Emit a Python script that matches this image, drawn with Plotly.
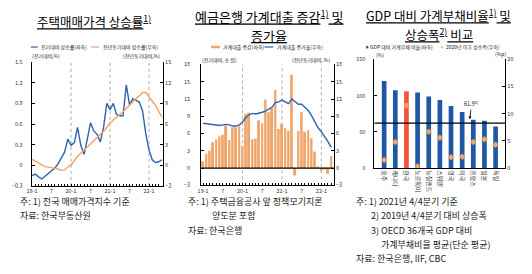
import plotly.graph_objects as go

FONT = "Noto Sans CJK KR"
W, H = 532, 274

# ---------------- data ----------------
# Panel 1: housing price growth, 2019-1 .. 2022-5 (monthly)
p1_mom = [-0.15, -0.13, -0.17, -0.20, -0.16, -0.12, -0.08, -0.04, 0.02, 0.10,
          0.19, 0.38, 0.29, 0.33, 0.55, 0.29, 0.16, 0.38, 0.62, 0.50,
          0.45, 0.34, 0.55, 0.90, 0.81, 0.90, 0.74, 0.72, 0.72, 1.17,
          0.88, 0.97, 0.95, 0.92, 0.79, 0.46, 0.22, 0.08, 0.04, 0.05, 0.08]
p1_yoy = [0.85, 0.60, 0.35, 0.05, -0.20, -0.27, -0.33, -0.40, -0.55, -0.73,
          -0.68, -0.30, 0.05, 0.65, 1.30, 1.75, 2.20, 2.70, 3.15, 3.60,
          4.05, 4.50, 4.95, 5.50, 6.15, 6.60, 6.95, 7.40, 7.80, 8.30,
          8.70, 9.20, 9.70, 10.10, 10.60, 10.60, 10.00, 9.40, 8.70, 7.80, 7.00]
p1_x = list(range(len(p1_mom)))

# Panel 2: household loans, 2019-1 .. 2022-4 (monthly)
p2_change = [1.2, 2.5, 3.0, 4.5, 5.0, 5.5, 5.8, 7.4, 4.9, 7.1,
             7.1, 7.3, 3.9, 9.4, 9.6, 5.0, 5.1, 8.3, 7.8, 11.9,
             9.7, 10.5, 13.6, 6.8, 7.7, 6.9, 6.5, 16.2, -1.3, 6.5,
             9.7, 6.3, 6.6, 5.2, 2.9, 0.2, -0.5, -0.2, -1.0, 2.1]
p2_growth = [7.8, 7.7, 7.6, 7.5, 7.4, 7.4, 7.5, 7.6, 7.5, 7.3,
             7.3, 7.5, 8.0, 8.8, 9.3, 9.5, 9.4, 9.5, 9.7, 9.9,
             10.2, 10.6, 11.4, 11.5, 11.8, 11.5, 11.2, 12.0, 11.5, 11.1,
             11.1, 10.6, 10.0, 9.1, 8.0, 7.0, 6.3, 5.5, 4.6, 3.6]
p2_x = list(range(len(p2_change)))

month_tickvals = [0, 6, 12, 18, 24, 30, 36]
month_ticktext = ["19-1", "7", "20-1", "7", "21-1", "7", "22-1"]
year_starts = [12, 24, 36]

# Panel 3: household debt to GDP
countries = ["호주", "캐나다", "한국", "노르웨이", "뉴질랜드", "스웨덴",
             "영국", "미국", "프랑스", "일본", "독일"]
debt_ratio = [120, 107.5, 106, 104.4, 98.7, 93.8, 85.8, 77.3, 66.7, 65.3, 57.3]
debt_rise = [1.5, 4.8, 11.5, 0.3, 6.7, 5.6, 2.0, 2.1, 4.8, 5.3, 4.3]
oecd_avg = 61.9

# ---------------- colors ----------------
BLUE = "#2E62AE"
ORANGE = "#EFA468"
BAR_BLUE = "#1D57A6"
KOREA_RED = "#F4513A"
TXT = "#222222"
TICK = "#333333"


def px(x):
    return x / W


def py(y):
    return 1 - y / H


fig = go.Figure()

# Panel 1
fig.add_trace(go.Scatter(x=p1_x, y=p1_mom, mode="lines", line=dict(color=BLUE, width=1.4),
                         xaxis="x", yaxis="y", showlegend=False))
fig.add_trace(go.Scatter(x=p1_x, y=p1_yoy, mode="lines", line=dict(color=ORANGE, width=1.4),
                         xaxis="x", yaxis="y2", showlegend=False))

# Panel 2
fig.add_trace(go.Bar(x=p2_x, y=p2_change, marker=dict(color=ORANGE, line=dict(width=0)),
                     width=0.6, xaxis="x2", yaxis="y3", showlegend=False))
fig.add_trace(go.Scatter(x=p2_x, y=p2_growth, mode="lines", line=dict(color=BLUE, width=1.4),
                         xaxis="x2", yaxis="y4", showlegend=False))

# Panel 3
fig.add_trace(go.Bar(x=countries, y=debt_ratio,
                     marker=dict(color=[KOREA_RED if c == "한국" else BAR_BLUE for c in countries],
                                 line=dict(width=0)),
                     width=0.42, xaxis="x3", yaxis="y5", showlegend=False))
fig.add_trace(go.Scatter(x=countries, y=debt_rise, mode="markers",
                         marker=dict(symbol="diamond", size=5, color=ORANGE),
                         xaxis="x3", yaxis="y6", showlegend=False))

axis_common = dict(showgrid=False, zeroline=False, showline=True, linecolor="black",
                   linewidth=1, tickfont=dict(family=FONT, size=5.5, color=TICK))

p1_dom_x = [px(27), px(159.5)]
p1_dom_y = [py(187.3), py(60)]
p2_dom_x = [px(198), px(332)]
p2_dom_y = [py(186.8), py(62.3)]
p3_dom_x = [px(373), px(505)]
p3_dom_y = [py(169), py(57)]

fig.update_layout(
    width=W, height=H, margin=dict(l=0, r=0, t=0, b=0),
    paper_bgcolor="white", plot_bgcolor="rgba(0,0,0,0)",
    font=dict(family=FONT, color=TXT),
    showlegend=False,
    xaxis=dict(domain=p1_dom_x, anchor="y", range=[-0.1, 40.3],
               tickvals=month_tickvals, ticktext=month_ticktext,
               ticks="inside", ticklen=2, tickcolor="black",
               minor=dict(dtick=1, ticks="inside", ticklen=2, tickcolor="black"),
               **axis_common),
    yaxis=dict(domain=p1_dom_y, anchor="x", range=[-0.3, 1.5], dtick=0.3, tick0=0,
               ticks="inside", ticklen=3, tickcolor="black", ticklabelstandoff=7,
               **axis_common),
    yaxis2=dict(overlaying="y", anchor="x", side="right", range=[-3, 15], dtick=3,
                ticks="inside", ticklen=3, tickcolor="black", **axis_common),
    xaxis2=dict(domain=p2_dom_x, anchor="y3", range=[-0.6, 39.8],
                tickvals=month_tickvals, ticktext=month_ticktext,
                ticks="inside", ticklen=2, tickcolor="black",
                minor=dict(dtick=1, ticks="inside", ticklen=2, tickcolor="black"),
                **axis_common),
    yaxis3=dict(domain=p2_dom_y, anchor="x2", range=[-3, 18], dtick=3,
                ticks="inside", ticklen=3, tickcolor="black", ticklabelstandoff=9,
                **axis_common),
    yaxis4=dict(overlaying="y3", anchor="x2", side="right", range=[-3, 18], dtick=3,
                ticks="inside", ticklen=3, tickcolor="black", **axis_common),
    xaxis3=dict(domain=p3_dom_x, anchor="y5", type="category", tickangle=90,
                ticks="", showgrid=False, zeroline=False, showline=True, linecolor="black",
                linewidth=1, tickfont=dict(family=FONT, size=6, color=TICK)),
    yaxis5=dict(domain=p3_dom_y, anchor="x3", range=[0, 150], dtick=50,
                ticks="inside", ticklen=3, tickcolor="black", ticklabelstandoff=7,
                **axis_common),
    yaxis6=dict(overlaying="y5", anchor="x3", side="right", range=[0, 20], dtick=5,
                ticks="inside", ticklen=3, tickcolor="black", **axis_common),
)

shapes = []
# dashed year separators
for xa, ya in (("x", "y"), ("x2", "y3")):
    for ys in year_starts:
        shapes.append(dict(type="line", xref=xa, yref=f"{ya} domain", x0=ys, x1=ys, y0=0, y1=1,
                           line=dict(color="#888888", width=0.7, dash="dot"), layer="below"))
# zero line panel 2
shapes.append(dict(type="line", xref="x2 domain", yref="y3", x0=0, x1=1, y0=0, y1=0,
                   line=dict(color="black", width=1.2)))
# OECD average line
shapes.append(dict(type="line", xref="x3 domain", yref="y5", x0=0, x1=1, y0=oecd_avg, y1=oecd_avg,
                   line=dict(color="black", width=1.3)))

annotations = []


def note(text, x, y, size=9, anchor="left", color=TXT):
    annotations.append(dict(text=text, x=px(x), y=py(y), xref="paper", yref="paper",
                            showarrow=False, xanchor=anchor, yanchor="middle",
                            font=dict(family=FONT, size=size, color=color)))


# titles
note("<u>주택매매가격 상승률<sup>1)</sup></u>", 90, 18, size=12.5, anchor="center", color="black")
note("<u>예금은행 가계대출 증감<sup>1)</sup> 및</u>", 266, 12.5, size=13, anchor="center", color="black")
note("<u>증가율</u>", 266, 32.5, size=13, anchor="center", color="black")
note("<u>GDP 대비 가계부채비율<sup>1)</sup> 및</u>", 438, 12, size=12.5, anchor="center", color="black")
note("<u>상승폭<sup>2)</sup> 비교</u>", 438, 31.5, size=12.5, anchor="center", color="black")

# legends (panel 1)
shapes.append(dict(type="line", xref="paper", yref="paper", x0=px(26), x1=px(33), y0=py(44.3), y1=py(44.3),
                   line=dict(color=BLUE, width=1.2)))
note("전기대비 상승률(좌축)", 34.5, 44.3, size=5)
shapes.append(dict(type="line", xref="paper", yref="paper", x0=px(87), x1=px(95), y0=py(44.3), y1=py(44.3),
                   line=dict(color=ORANGE, width=1.2)))
note("전년동기대비 상승률(우축)", 96.5, 44.3, size=5)
note("(전기대비,%)", 25, 53.3, size=5)
note("(전년동기대비,%)", 158, 53.3, size=5, anchor="right")

# legends (panel 2)
shapes.append(dict(type="line", xref="paper", yref="paper", x0=px(208), x1=px(217), y0=py(44.3), y1=py(44.3),
                   line=dict(color=ORANGE, width=2.5)))
note("가계대출 증감(좌축)", 218, 44.3, size=5)
shapes.append(dict(type="line", xref="paper", yref="paper", x0=px(262), x1=px(271), y0=py(44.3), y1=py(44.3),
                   line=dict(color=BLUE, width=1.2)))
note("가계대출 증가율(우축)", 272.5, 44.3, size=5)
note("(전기대비, 조 원)", 197, 57.7, size=5)
note("(전년동기대비, %)", 330, 57.7, size=5, anchor="right")

# legends (panel 3)
shapes.append(dict(type="rect", xref="paper", yref="paper", x0=px(364.5), x1=px(366.8), y0=py(45.7), y1=py(43.3),
                   fillcolor=BAR_BLUE, line=dict(width=0)))
note("GDP 대비 가계부채 비율(좌축)", 366.5, 44.5, size=5)
shapes.append(dict(type="circle", xref="paper", yref="paper", x0=px(440), x1=px(442.2), y0=py(45.6), y1=py(43.4),
                   fillcolor=ORANGE, line=dict(width=0)))
note("2020년 이후 상승폭(우축)", 443, 44.5, size=5)
note("(%)", 372, 52, size=5)
note("(%p)", 508, 52, size=5, anchor="right")

# OECD average label with arrow
annotations.append(dict(text="61.9<sup>3)</sup>", x=7.65, y=oecd_avg, xref="x3", yref="y5",
                        showarrow=True, arrowhead=2, arrowsize=0.7, arrowwidth=0.8,
                        arrowcolor="black", ax=2, ay=-19, standoff=4,
                        font=dict(family=FONT, size=5.5, color=TXT)))

# footnotes
note("주: 1) 전국 매매가격지수 기준", 13, 203)
note("자료: 한국부동산원", 13, 217.5)
note("주: 1) 주택금융공사 앞 정책모기지론", 183, 203)
note("양도분 포함", 207, 218)
note("자료: 한국은행", 183, 233)
note("주: 1) 2021년 4/4분기 기준", 352, 203)
note("2) 2019년 4/4분기 대비 상승폭", 367, 218)
note("3) OECD 36개국 GDP 대비", 367, 233)
note("가계부채비율 평균(단순 평균)", 378, 247.5)
note("자료: 한국은행, IIF, CBC", 352, 262)

fig.update_layout(shapes=shapes, annotations=annotations)
fig.write_html("out.html")
